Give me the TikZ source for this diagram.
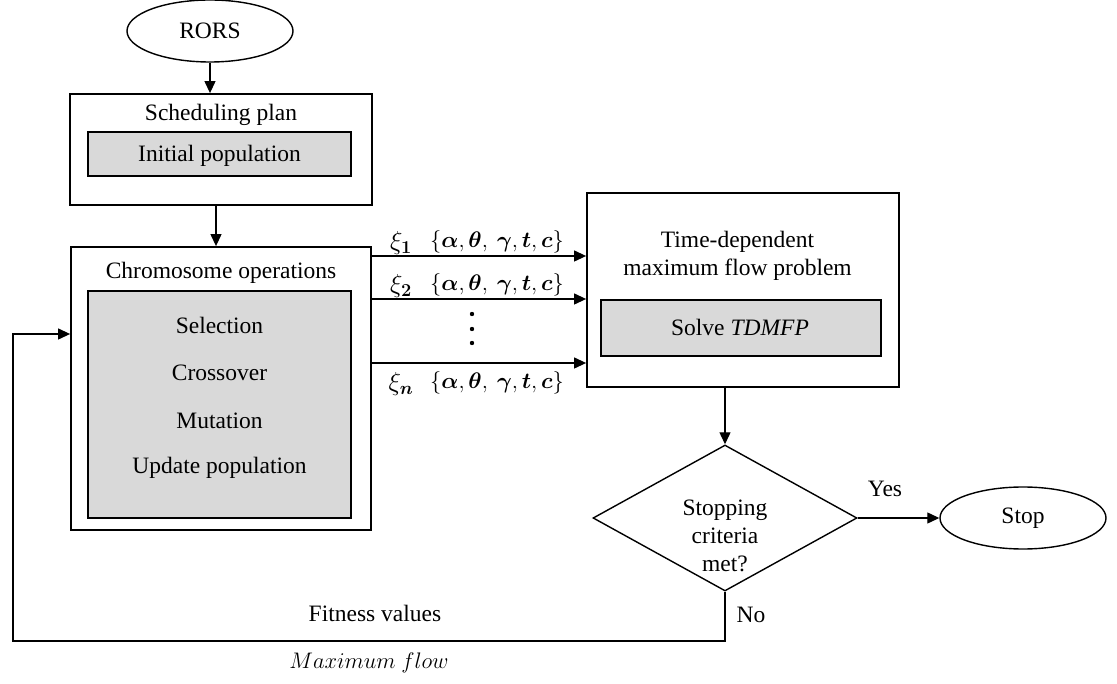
\RequirePackage{fix-cm}
\documentclass[tikz,border=0pt]{standalone}
\usepackage{fontspec}
\usepackage{amsmath}
\usepackage{bm}
\setmainfont{Liberation Serif}
\usetikzlibrary{arrows.meta,shapes.geometric}

\tikzset{
  txt/.style={font=\fontsize{23.5}{28}\selectfont, inner sep=0pt},
  mth/.style={font=\fontsize{22.5}{26}\selectfont, inner sep=0pt},
  xilabel/.style={font=\fontsize{26}{30}\selectfont, inner sep=0pt},
  outerbox/.style={draw, line width=1.8pt, minimum width=#1, inner sep=0pt},
  graybox/.style={draw, line width=1.4pt, fill=black!15, inner sep=0pt},
  terminal/.style={draw, ellipse, line width=1.4pt, inner sep=0pt,
    minimum width=166pt, minimum height=62pt, font=\fontsize{23.5}{28}\selectfont},
  arr/.style={line width=1.2pt, -{Triangle[length=12pt,width=11pt]}},
}

\begin{document}
\begin{tikzpicture}[x=1pt,y=-1pt]
\useasboundingbox (0,0) rectangle (1117,684);

% start
\node[terminal] (rors) at (210,31) {RORS};

% scheduling plan
\node[outerbox=302pt, minimum height=111pt] (sched) at (221,149.5) {};
\node[txt] (schedT) at (221,115) {Scheduling plan};
\node[graybox, minimum width=263pt, minimum height=44pt] (init) at (219.5,154) {};
\node[txt] (initT) at (219.5,156) {Initial population};

% chromosome operations
\node[outerbox=300pt, minimum height=283pt] (chrom) at (221,388.5) {};
\node[txt] (chromT) at (221,273) {Chromosome operations};
\node[graybox, minimum width=263pt, minimum height=227pt] (ops) at (219.5,404.5) {};
\node[txt] (sel) at (219.5,325) {Selection};
\node[txt] (cross) at (219.5,373) {Crossover};
\node[txt] (mut) at (219.5,421) {Mutation};
\node[txt] (upd) at (219.5,468) {Update population};

% time-dependent maximum flow problem
\node[outerbox=312pt, minimum height=194pt] (tdm) at (743,290) {};
\node[txt, align=center] (tdmT) at (737.5,256) {Time-dependent\\maximum flow problem};
\node[graybox, minimum width=280pt, minimum height=56pt] (solve) at (741,328) {};
\node[txt] (solveT) at (740,327) {Solve \textit{TDMFP}};

% decision
\node[draw, diamond, line width=1.4pt, inner sep=0pt, aspect=1.81,
      minimum width=264pt, minimum height=146pt] (dia) at (725,518) {};
\node[txt, align=center] (diaT) at (725,536) {Stopping\\criteria\\met?};

% end
\node[terminal] (stop) at (1023,518) {Stop};

% main flow
\draw[arr] (rors.south) -- (rors.south |- sched.north);
\draw[arr] ([xshift=-5pt]sched.south) -- ([xshift=-5pt]chrom.north);

% parameter sets passed to the flow model
\foreach \yy in {256,299,363}{
  \draw[arr] (chrom.east |- 0,\yy) -- (tdm.west |- 0,\yy);
}
\node[xilabel] (xi1) at (401,243) {$\xi_{\bm{1}}$};
\node[mth] (set1) at (497,242) {$\{\bm{\alpha},\bm{\theta},\ \bm{\gamma},\bm{t},\bm{c}\}$};
\node[xilabel] (xi2) at (401,286) {$\xi_{\bm{2}}$};
\node[mth] (set2) at (497,285) {$\{\bm{\alpha},\bm{\theta},\ \bm{\gamma},\bm{t},\bm{c}\}$};
\node[xilabel] (xin) at (401,384) {$\xi_{\bm{n}}$};
\node[mth] (setn) at (497,383) {$\{\bm{\alpha},\bm{\theta},\ \bm{\gamma},\bm{t},\bm{c}\}$};
\foreach \yy in {314,329,343}{
  \fill (472,\yy) circle (2.2pt);
}

\draw[arr] (dia.north |- tdm.south) -- (dia.north);
\draw[arr] (dia.east) -- (stop.west);
\node[txt] (yes) at (885,489) {Yes};

% feedback loop
\coordinate (low) at (13,641);
\coordinate (back) at (13,334);
\draw[arr] (dia.south) -- (dia.south |- low) -- (low) -- (back) -- (chrom.west |- back);
\node[txt] (no) at (751,615) {No};
\node[txt] (fit) at (375,613) {Fitness values};
\node[mth] (maxf) at (369,663) {$Maximum\ flow$};
\end{tikzpicture}
\end{document}
